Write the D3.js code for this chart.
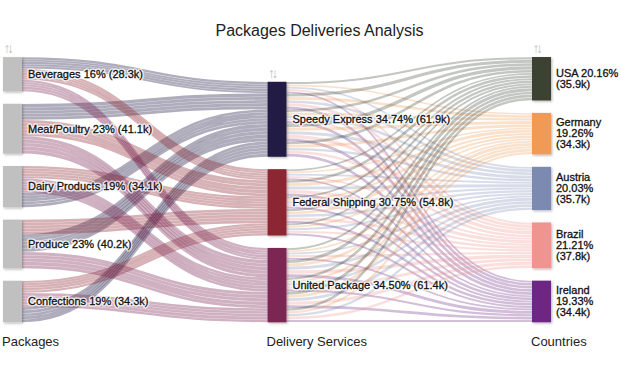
<!DOCTYPE html>
<html><head><meta charset="utf-8">
<script src="https://cdn.jsdelivr.net/npm/d3@7"></script>
<style>
body{margin:0;background:#fff}
svg{display:block}
text{font-family:"Liberation Sans",Arial,Helvetica,sans-serif}
</style>
</head><body>
<svg id="c" width="621" height="367"></svg>
<script>
// ---------- data ----------
const packages = ["Beverages","Meat/Poultry","Dairy Products","Produce","Confections"];
const packageValues = [28.3, 41.1, 34.1, 40.2, 34.3];
const packagePct = ["16%","23%","19%","23%","19%"];

const services = ["Speedy Express","Federal Shipping","United Package"];
const serviceValues = [61.9, 54.8, 61.4];
const servicePct = ["34.74%","30.75%","34.50%"];

const countries = ["USA","Germany","Austria","Brazil","Ireland"];
const countryValues = [35.9, 34.3, 35.7, 37.8, 34.4];
const countryPct = ["20.16%","19.26%","20.03%","21.21%","19.33%"];

// deliveries (k) per service: rows = packages, cols = countries
const speedyFlows = [
  [2.1,1.7,1.9,2.0,1.8],
  [2.9,2.6,2.5,2.7,2.5],
  [2.4,2.3,2.6,2.2,2.5],
  [3.1,2.8,2.9,3.2,2.6],
  [2.5,2.6,2.4,2.5,2.6]
];
const federalFlows = [
  [1.8,1.7,1.9,1.8,1.8],
  [2.5,2.7,2.8,2.9,2.5],
  [2.0,2.1,2.0,2.2,2.0],
  [2.3,2.4,2.4,2.5,2.4],
  [1.9,1.9,2.1,2.1,2.1]
];
const unitedFlows = [
  [2.0,1.8,1.9,2.2,1.9],
  [2.9,2.7,2.9,3.2,2.8],
  [2.4,2.2,2.3,2.7,2.2],
  [2.7,2.6,2.8,3.0,2.5],
  [2.4,2.2,2.3,2.6,2.2]
];
// order in which each package's outgoing flows leave the node (service indices)
const packageLinkOrder = [[0,1,2],[0,1,2],[1,2,0],[1,0,2],[1,2,0]];
const columnTitles = ["Packages","Delivery Services","Countries"];
const chartTitle = "Packages Deliveries Analysis";

// ---------- styles ----------
const packageColor = "#c0c0c0";
const serviceColors = ["#211b44","#8c2631","#7b2653"];
const countryColors = ["#3a4331","#f09a55","#7b8ab2","#ef948f","#6d2883"];

// ---------- layout ----------
const svg = d3.select("#c");
const defs = svg.append("defs");
const f = defs.append("filter").attr("id","sh").attr("x","-20%").attr("y","-20%").attr("width","160%").attr("height","160%");
f.append("feDropShadow").attr("dx",1.2).attr("dy",1.2).attr("stdDeviation",0.9)
  .attr("flood-color","#000").attr("flood-opacity",0.28);

const yTop = 57, yBottom = 322.3, gap = 12.4, nodeW = 19;
const colX = [3, 267.5, 532];
const maxTotal = d3.max([d3.sum(packageValues), d3.sum(serviceValues), d3.sum(countryValues)]);
const maxGaps = 4 * gap;
const h = d3.scaleLinear().domain([0, maxTotal]).range([0, yBottom - yTop - maxGaps]);

function stackColumn(vals, ci) {
  const tot = h(d3.sum(vals)) + (vals.length - 1) * gap;
  let y = yBottom - tot;
  return vals.map(v => {
    const n = {x0: colX[ci], x1: colX[ci] + nodeW, y0: y, y1: y + h(v), value: v};
    y += h(v) + gap;
    return n;
  });
}
const pNodes = stackColumn(packageValues, 0);
const sNodes = stackColumn(serviceValues, 1);
const cNodes = stackColumn(countryValues, 2);

const flows = [speedyFlows, federalFlows, unitedFlows];
const strands = [];
flows.forEach((m, s) => m.forEach((row, p) => row.forEach((v, c) => strands.push({s, p, c, v}))));

const sOff = sNodes.map(n => n.y0);
strands.slice().sort((a,b)=> a.s-b.s || a.p-b.p || a.c-b.c).forEach(d => {
  d.ym = sOff[d.s] + h(d.v)/2; sOff[d.s] += h(d.v);
});
const pOff = pNodes.map(n => n.y0);
const rank = (d) => packageLinkOrder[d.p].indexOf(d.s);
strands.slice().sort((a,b)=> a.p-b.p || rank(a)-rank(b) || a.c-b.c).forEach(d => {
  d.yl = pOff[d.p] + h(d.v)/2; pOff[d.p] += h(d.v);
});
const cOff = cNodes.map(n => n.y0);
strands.slice().sort((a,b)=> a.c-b.c || a.s-b.s || a.p-b.p).forEach(d => {
  d.yr = cOff[d.c] + h(d.v)/2; cOff[d.c] += h(d.v);
});

const link = d3.linkHorizontal();

svg.append("g").attr("fill","none").selectAll("path").data(strands).join("path")
  .attr("d", d => link({source:[colX[0]+nodeW, d.yl], target:[colX[1], d.ym]}))
  .attr("stroke", d => serviceColors[d.s])
  .attr("stroke-opacity", 0.36)
  .attr("stroke-width", d => Math.max(0.5, h(d.v) - 0.25));

svg.append("g").attr("fill","none").selectAll("path").data(strands).join("path")
  .attr("d", d => link({source:[colX[1]+nodeW, d.ym], target:[colX[2], d.yr]}))
  .attr("stroke", d => countryColors[d.c])
  .attr("stroke-opacity", 0.3)
  .attr("stroke-width", d => Math.max(0.5, h(d.v) - 0.5));

function drawNodes(nodes, colors) {
  svg.append("g").selectAll("rect").data(nodes).join("rect")
    .attr("x", d => d.x0).attr("y", d => d.y0)
    .attr("width", d => d.x1 - d.x0).attr("height", d => d.y1 - d.y0)
    .attr("fill", (d,i) => colors[i]).attr("filter","url(#sh)");
}
drawNodes(pNodes, pNodes.map(() => packageColor));
drawNodes(sNodes, serviceColors);
drawNodes(cNodes, countryColors);

[pNodes[0], sNodes[0], cNodes[0]].forEach(n => {
  svg.append("text").attr("x", n.x0 + 0.5).attr("y", n.y0 - 4)
    .attr("font-size", 14).attr("fill", "#c2c2c2").attr("letter-spacing", -3.5)
    .text("↑↓");
});

// labels: white halo layer, then dark text layer
const labels = [];
pNodes.forEach((n, i) => labels.push({x: n.x1 + 6, y: (n.y0+n.y1)/2,
  lines: [`${packages[i]} ${packagePct[i]} (${packageValues[i].toFixed(1)}k)`]}));
sNodes.forEach((n, i) => labels.push({x: n.x1 + 6, y: (n.y0+n.y1)/2,
  lines: [`${services[i]} ${servicePct[i]} (${serviceValues[i].toFixed(1)}k)`]}));

const measure = svg.append("text").attr("font-size", 11).attr("opacity", 0);
const maxW = 65, lineH = 11;
cNodes.forEach((n, i) => {
  const words = `${countries[i]} ${countryPct[i]} (${countryValues[i].toFixed(1)}k)`.split(" ");
  const lines = [];
  let cur = "";
  words.forEach(w => {
    const test = cur ? cur + " " + w : w;
    measure.text(test);
    if (cur && measure.node().getComputedTextLength() > maxW) { lines.push(cur); cur = w; }
    else cur = test;
  });
  lines.push(cur);
  labels.push({x: n.x1 + 5, y: (n.y0+n.y1)/2, lines});
});
measure.remove();

function drawLabels(g) {
  labels.forEach(l => {
    const t = g.append("text");
    const startY = l.y - (l.lines.length - 1) * lineH / 2;
    l.lines.forEach((s, j) => t.append("tspan").attr("x", l.x).attr("y", startY + j*lineH).attr("dy","0.35em").text(s));
  });
}
drawLabels(svg.append("g").attr("font-size", 11).attr("fill", "#fff")
  .attr("stroke", "#fff").attr("stroke-width", 3).attr("stroke-opacity", 0.8).attr("stroke-linejoin","round"));
drawLabels(svg.append("g").attr("font-size", 11).attr("fill", "#111")
  .attr("stroke", "#111").attr("stroke-width", 0.3));

columnTitles.forEach((t, i) => {
  svg.append("text").attr("x", colX[i] - 1).attr("y", 346).attr("font-size", 13).attr("fill", "#222").text(t);
});

svg.append("text").attr("x", 319.5).attr("y", 36).attr("text-anchor","middle")
  .attr("font-size", 16).attr("fill", "#222").text(chartTitle);
</script>
</body></html>
